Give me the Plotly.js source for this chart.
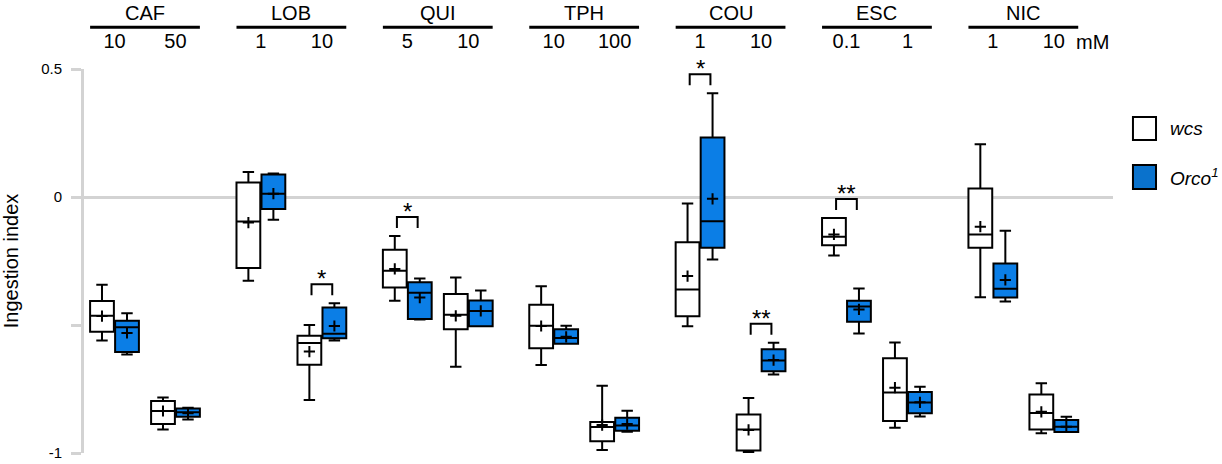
<!DOCTYPE html>
<html>
<head>
<meta charset="utf-8">
<script src="https://cdn.plot.ly/plotly-3.0.1.min.js"></script>
<style>html,body{margin:0;padding:0;background:#fff;}#chart{width:1222px;height:464px;}</style>
</head>
<body>
<div id="chart"></div>
<script>
// ---- data ----
const groups = ["CAF", "LOB", "QUI", "TPH", "COU", "ESC", "NIC"];
const concLabels = ["10", "50", "1", "10", "5", "10", "10", "100", "1", "10", "0.1", "1", "1", "10"];
const unitLabel = "mM";
const seriesNames = ["wcs", "Orco<sup>1</sup>"];

const wcsHi   = [-0.343, -0.783,  0.098, -0.500, -0.152, -0.314, -0.349, -0.737, -0.025, -0.785, -0.082, -0.568,  0.206, -0.728];
const wcsQ3   = [-0.406, -0.797,  0.057, -0.542, -0.206, -0.379, -0.421, -0.879, -0.177, -0.850, -0.082, -0.630,  0.033, -0.771];
const wcsMed  = [-0.464, -0.836, -0.096, -0.570, -0.288, -0.460, -0.503, -0.898, -0.361, -0.908, -0.155, -0.764, -0.146, -0.844];
const wcsQ1   = [-0.526, -0.887, -0.277, -0.655, -0.354, -0.517, -0.591, -0.954, -0.466, -0.990, -0.188, -0.875, -0.198, -0.908];
const wcsLo   = [-0.561, -0.908, -0.327, -0.793, -0.405, -0.663, -0.656, -0.988, -0.505, -0.997, -0.229, -0.901, -0.392, -0.923];
const wcsMean = [-0.465, -0.836, -0.100, -0.604, -0.281, -0.464, -0.504, -0.891, -0.309, -0.910, -0.146, -0.745, -0.116, -0.839];

const orcoHi   = [-0.454, -0.823,  0.092, -0.415, -0.318, -0.365, -0.503, -0.835,  0.405, -0.569, -0.357, -0.741, -0.132, -0.858];
const orcoQ3   = [-0.483, -0.826,  0.088, -0.432, -0.333, -0.404, -0.517, -0.862,  0.232, -0.595, -0.405, -0.762, -0.260, -0.871];
const orcoMed  = [-0.509, -0.841,  0.013, -0.534, -0.374, -0.445, -0.551, -0.893, -0.095, -0.639, -0.428, -0.803, -0.358, -0.897];
const orcoQ1   = [-0.605, -0.858, -0.047, -0.552, -0.477, -0.505, -0.573, -0.913, -0.198, -0.681, -0.487, -0.845, -0.393, -0.918];
const orcoLo   = [-0.615, -0.869, -0.089, -0.561, -0.479, -0.505, -0.573, -0.917, -0.244, -0.693, -0.533, -0.857, -0.408, -0.918];
const orcoMean = [-0.531, -0.845,  0.013, -0.504, -0.393, -0.445, -0.546, -0.887, -0.007, -0.637, -0.439, -0.802, -0.324, -0.897];

const sigIndex = [3, 4, 8, 9, 10];
const sigText  = ["*", "*", "*", "**", "**"];

// ---- layout helpers ----
const FONT = "Liberation Sans, Arial, Helvetica, sans-serif";
const BLUE = "#0b7ee6";
const GROUP_STEP = 2.4;
const OFF = 0.205, BOXW = 0.39;
const pairPos = concLabels.map((_, i) => Math.floor(i / 2) * GROUP_STEP + (i % 2));
const wcsX = pairPos.map(p => p - OFF);
const orcoX = pairPos.map(p => p + OFF);

function boxTrace(x, q1, med, q3, lo, hi, fill, name) {
  return {
    type: "box", name: name, x: x, q1: q1, median: med, q3: q3,
    lowerfence: lo, upperfence: hi, width: BOXW, whiskerwidth: 0.48,
    fillcolor: fill, line: {color: "#000", width: 2},
    boxpoints: false, showlegend: false, hoverinfo: "skip"
  };
}
function meanTrace(x, y) {
  return {
    type: "scatter", mode: "markers", x: x, y: y, showlegend: false, hoverinfo: "skip",
    marker: {symbol: "cross-thin", size: 8, color: "#000", line: {color: "#000", width: 2}}
  };
}

const data = [
  boxTrace(wcsX, wcsQ1, wcsMed, wcsQ3, wcsLo, wcsHi, "#ffffff", seriesNames[0]),
  boxTrace(orcoX, orcoQ1, orcoMed, orcoQ3, orcoLo, orcoHi, BLUE, seriesNames[1]),
  meanTrace(wcsX, wcsMean),
  meanTrace(orcoX, orcoMean)
];

const shapes = [];
const annotations = [];

// group headers with underline
groups.forEach((g, k) => {
  const c = k * GROUP_STEP;
  shapes.push({type: "line", xref: "x", yref: "paper", x0: c - 0.4, x1: c + 1.4, y0: 1.109, y1: 1.109,
    line: {color: "#000", width: 3}});
  annotations.push({xref: "x", yref: "paper", x: c + 0.5, y: 1.146, text: g, showarrow: false,
    xanchor: "center", yanchor: "middle", font: {family: FONT, size: 20, color: "#000"}});
});
// unit label
annotations.push({xref: "x", yref: "paper", x: pairPos[pairPos.length - 1] + 0.33, y: 1.070, text: unitLabel,
  showarrow: false, xanchor: "left", yanchor: "middle", font: {family: FONT, size: 20, color: "#000"}});

// significance brackets
const U = 1.5 / 384; // data units per pixel
sigIndex.forEach((i, k) => {
  const top = Math.max(wcsHi[i], orcoHi[i]);
  const yb = top + 8 * U, yt = yb + 11 * U;
  const xa = pairPos[i] - 0.17, xb = pairPos[i] + 0.17;
  shapes.push({type: "path", xref: "x", yref: "y",
    path: `M ${xa} ${yb} L ${xa} ${yt} L ${xb} ${yt} L ${xb} ${yb}`,
    line: {color: "#000", width: 2}});
  annotations.push({xref: "x", yref: "y", x: pairPos[i], y: yt + 3 * U, text: sigText[k],
    showarrow: false, xanchor: "center", yanchor: "bottom", yshift: -13,
    font: {family: FONT, size: 24, color: "#000"}});
});

// legend
const legendItems = [{fill: "#ffffff", y0: 0.875, y1: 0.815, text: "<i>" + seriesNames[0] + "</i>"},
                     {fill: "#0a72cc", y0: 0.750, y1: 0.6875, text: "<i>" + seriesNames[1] + "</i>"}];
legendItems.forEach(it => {
  shapes.push({type: "rect", xref: "paper", yref: "paper", x0: 1.0194, x1: 1.0418, y0: it.y1, y1: it.y0,
    fillcolor: it.fill, line: {color: "#000", width: 2}});
  annotations.push({xref: "paper", yref: "paper", x: 1.0535, y: (it.y0 + it.y1) / 2, text: it.text,
    showarrow: false, xanchor: "left", yanchor: "middle", font: {family: FONT, size: 19, color: "#000"}});
});

const layout = {
  width: 1222, height: 464,
  margin: {l: 84, r: 109, t: 69, b: 11, pad: 0},
  paper_bgcolor: "#fff", plot_bgcolor: "#fff",
  font: {family: FONT, color: "#000"},
  boxmode: "overlay",
  showlegend: false,
  xaxis: {
    range: [-0.5, 16.37], side: "top", tickvals: pairPos, ticktext: concLabels,
    ticks: "", showline: false, showgrid: false, zeroline: false,
    tickfont: {family: FONT, size: 20, color: "#000"}, ticklabelstandoff: 16, fixedrange: true
  },
  yaxis: {
    range: [-1, 0.5], tickvals: [0.5, 0, -0.5, -1], ticktext: ["0.5", "0", " ", "-1"],
    showline: true, linecolor: "#d3d3d3", linewidth: 3,
    ticks: "outside", ticklen: 10, tickwidth: 3, tickcolor: "#d3d3d3",
    showgrid: false, zeroline: true, zerolinecolor: "#d3d3d3", zerolinewidth: 3,
    tickfont: {family: FONT, size: 15, color: "#000"}, ticklabelstandoff: 6,
    title: {text: "Ingestion index", font: {family: FONT, size: 20, color: "#000"}, standoff: 18},
    fixedrange: true
  },
  shapes: shapes,
  annotations: annotations
};

Plotly.newPlot("chart", data, layout, {displayModeBar: false, staticPlot: true});
</script>
</body>
</html>
